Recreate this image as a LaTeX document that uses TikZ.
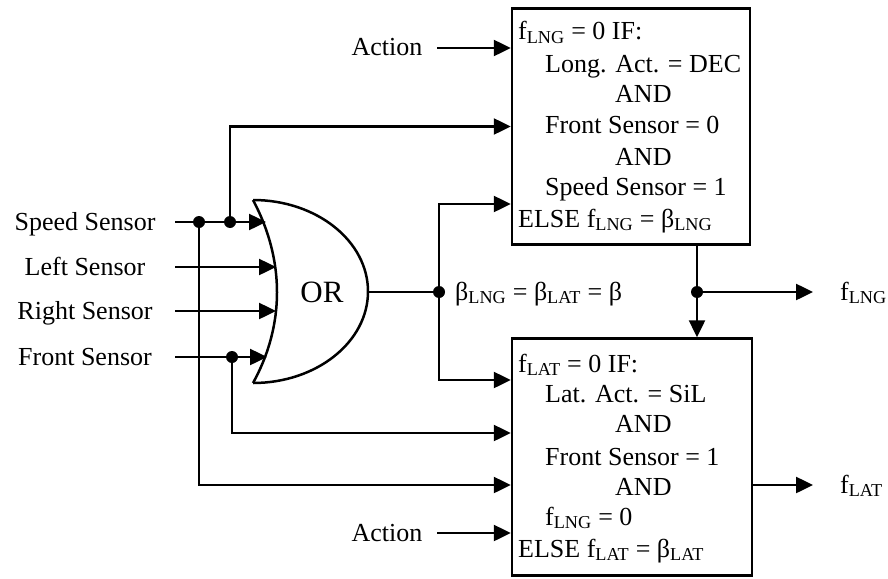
\documentclass[tikz,border=0pt]{standalone}
\usepackage{fontspec}
\setmainfont{Liberation Serif}
\usetikzlibrary{arrows.meta}
\begin{document}
\begin{tikzpicture}[x=1pt,y=-1pt,
  wire/.style={line width=2.5pt},
  arr/.style={wire,-{Triangle[length=17pt,width=16pt]}},
  dot/.style={circle,fill,inner sep=0pt,minimum size=12pt},
  lbl/.style={font=\fontsize{26}{31}\selectfont,inner sep=0pt,anchor=base},
  txt/.style={lbl,anchor=base west},
  blk/.style={draw,line width=2.5pt,inner sep=0pt}]
\useasboundingbox (0,0) rectangle (888,578);

% blocks
\node[blk,minimum width=238pt,minimum height=236pt] (top) at (631,126.5) {};
\node[blk,minimum width=240pt,minimum height=237pt] (bot) at (632,457) {};

% left labels
\node[lbl] (speed) at (85,230.5) {Speed Sensor};
\node[lbl] (left)  at (85,275) {Left Sensor};
\node[lbl] (right) at (85,319.5) {Right Sensor};
\node[lbl] (front) at (85,365.5) {Front Sensor};
\node[lbl] (act1) at (387,56) {Action};
\node[lbl] (act2) at (387,541) {Action};

% OR gate
\draw[wire] (253,200) .. controls (285,260) and (285,325) .. (253,383);
\draw[wire] (253,200) .. controls (316.5,200) and (368,241) .. (368,291.5)
                      .. controls (368,342) and (316.5,383) .. (253,383);
\node[lbl,font=\fontsize{31}{36}\selectfont] (or) at (322,302.5) {OR};

% coordinates
\coordinate (s0) at (175,222);
\coordinate (l0) at (175,267);
\coordinate (r0) at (175,311);
\coordinate (f0) at (175,357);
\coordinate (sIn) at (266,222);
\coordinate (lIn) at (276,267);
\coordinate (rIn) at (276,311);
\coordinate (fIn) at (267,357);
\coordinate (sd1) at (199,222);
\coordinate (sd2) at (230,222);
\coordinate (fd) at (232,357);
\coordinate (gout) at (368,292);
\coordinate (beta) at (439,292);
\coordinate (jx) at (697,292);
\coordinate (flngEnd) at (813,292);
\coordinate (flatEnd) at (813,485);
\coordinate (a1) at (437,48);
\coordinate (a2) at (437,533);
\coordinate (y204) at (0,204);
\coordinate (y380) at (0,380);
\coordinate (y433) at (0,433);
\coordinate (y485) at (0,485);

% inputs to gate
\draw[arr] (s0) -- (sIn);
\draw[arr] (l0) -- (lIn);
\draw[arr] (r0) -- (rIn);
\draw[arr] (f0) -- (fIn);

% branches
\draw[arr] (sd2) |- (top.west);
\draw[arr] (sd1) |- (bot.west |- y485);
\draw[arr] (fd) |- (bot.west |- y433);
\draw[wire] (gout) -- (beta);
\draw[arr] (beta) |- (top.west |- y204);
\draw[arr] (beta) |- (bot.west |- y380);
\draw[arr] (a1) -- (top.west |- a1);
\draw[arr] (a2) -- (bot.west |- a2);
\draw[wire] (top.south -| jx) -- (jx);
\draw[arr] (jx) -- (bot.north -| jx);
\draw[arr] (jx) -- (flngEnd);
\draw[arr] (bot.east |- y485) -- (flatEnd);

% dots
\foreach \p in {sd1,sd2,fd,beta,jx} \node[dot] at (\p) {};

% labels
\node[txt] (blab) at (455,300) {β\textsubscript{LNG} = β\textsubscript{LAT} = β};
\node[txt] (flng) at (840,300) {f\textsubscript{LNG}};
\node[txt] (flat) at (840,493) {f\textsubscript{LAT}};

% top block text
\node[txt] (t1) at (518,40) {f\textsubscript{LNG} = 0 IF:};
\node[txt] (t2) at (545,72) {Long. Act. = DEC};
\node[txt] (t3) at (615,102) {AND};
\node[txt] (t4) at (545,133) {Front Sensor = 0};
\node[txt] (t5) at (615,165) {AND};
\node[txt] (t6) at (545,195) {Speed Sensor = 1};
\node[txt] (t7) at (518,227) {ELSE f\textsubscript{LNG} = β\textsubscript{LNG}};

% bottom block text
\node[txt] (b1) at (518,372) {f\textsubscript{LAT} = 0 IF:};
\node[txt] (b2) at (545,402) {Lat. Act. = SiL};
\node[txt] (b3) at (615,432) {AND};
\node[txt] (b4) at (545,465) {Front Sensor = 1};
\node[txt] (b5) at (615,495) {AND};
\node[txt] (b6) at (545,525) {f\textsubscript{LNG} = 0};
\node[txt] (b7) at (518,557) {ELSE f\textsubscript{LAT} = β\textsubscript{LAT}};
\end{tikzpicture}
\end{document}
